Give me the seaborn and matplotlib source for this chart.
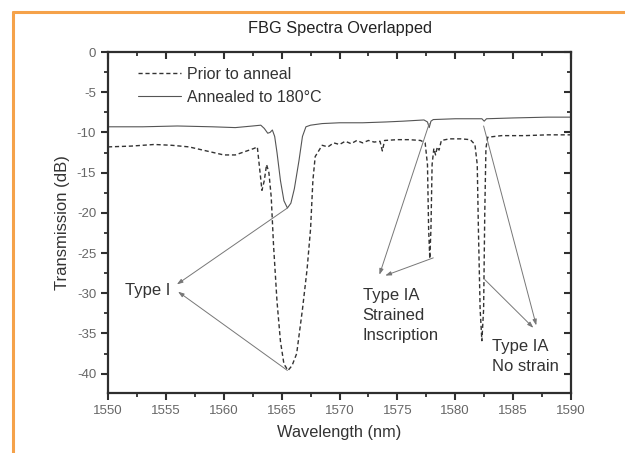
import numpy as np
import pandas as pd
import seaborn as sns
import matplotlib
matplotlib.use("Agg")
import matplotlib.pyplot as plt
from matplotlib.lines import Line2D, TICKDOWN, TICKLEFT
from matplotlib.ticker import FixedLocator

# ---- data ----
prior_wl = [1550.0, 1552.0, 1554.0, 1555.5, 1557.0, 1558.5, 1560.0, 1561.0, 1562.0, 1562.6,
            1562.9, 1563.1, 1563.3, 1563.5, 1563.7, 1563.9, 1564.1, 1564.3, 1564.6, 1564.9,
            1565.2, 1565.55, 1565.9, 1566.3, 1566.8, 1567.2, 1567.5, 1567.7, 1567.9, 1568.2,
            1568.5, 1569.0, 1569.5, 1570.0, 1570.5, 1571.0, 1571.5, 1572.0, 1572.5, 1573.0,
            1573.5, 1573.7, 1573.9, 1575.0, 1576.0, 1577.0, 1577.4, 1577.6, 1577.7, 1577.8,
            1577.9, 1578.0, 1578.15, 1578.3, 1578.45, 1578.6, 1578.8, 1579.5, 1580.5, 1581.3,
            1581.7, 1581.9, 1582.0, 1582.15, 1582.3, 1582.45, 1582.55, 1582.65, 1582.8, 1584.0,
            1586.0, 1588.0, 1590.0]
prior_db = [-11.8, -11.7, -11.5, -11.6, -11.8, -12.3, -12.8, -12.8, -12.3, -12.0,
            -11.8, -14.5, -17.2, -16.0, -14.0, -15.0, -18.0, -24.0, -31.0, -36.0,
            -38.8, -39.6, -39.0, -37.5, -32.0, -27.0, -22.0, -16.0, -13.0, -12.3,
            -11.6, -11.8, -11.3, -11.5, -11.1, -11.4, -11.0, -11.3, -11.0, -11.2,
            -11.1, -12.3, -11.0, -10.9, -10.9, -11.0, -11.3, -14.0, -22.0, -25.7,
            -22.0, -14.0, -12.0, -12.8, -11.8, -12.2, -11.0, -10.8, -10.8, -10.9,
            -11.5, -14.0, -22.0, -32.0, -35.9, -32.0, -20.0, -12.0, -10.6, -10.4,
            -10.4, -10.3, -10.3]

annealed_wl = [1550.0, 1553.0, 1556.0, 1559.0, 1561.0, 1562.5, 1563.2, 1563.5, 1563.8, 1564.0,
               1564.2, 1564.4, 1564.6, 1564.9, 1565.2, 1565.5, 1565.8, 1566.1, 1566.5, 1566.8,
               1567.1, 1567.5, 1568.5, 1570.0, 1572.0, 1574.0, 1575.5, 1577.3, 1577.6, 1577.75,
               1577.9, 1578.1, 1580.0, 1582.3, 1582.5, 1582.7, 1585.0, 1588.0, 1590.0]
annealed_db = [-9.3, -9.3, -9.2, -9.3, -9.4, -9.2, -9.1, -9.5, -10.1, -10.0,
               -9.7, -10.5, -12.5, -16.0, -18.5, -19.4, -18.8, -17.0, -13.5, -10.5,
               -9.3, -9.1, -8.9, -8.8, -8.8, -8.7, -8.6, -8.45, -8.7, -9.4,
               -8.6, -8.4, -8.3, -8.3, -8.6, -8.3, -8.2, -8.1, -8.1]

series_labels = ["Prior to anneal", "Annealed to 180°C"]
title = "FBG Spectra Overlapped"
x_label = "Wavelength (nm)"
y_label = "Transmission (dB)"
x_ticks = [1550, 1555, 1560, 1565, 1570, 1575, 1580, 1585, 1590]
y_ticks = [0, -5, -10, -15, -20, -25, -30, -35, -40]
x_minor = [1552.5, 1557.5, 1562.5, 1567.5, 1572.5, 1577.5, 1582.5, 1587.5]
y_minor = [-2.5, -7.5, -12.5, -17.5, -22.5, -27.5, -32.5, -37.5]

# ---- style ----
sns.set_style("white")
plt.rcParams["font.family"] = ["Liberation Sans", "DejaVu Sans"]
plt.rcParams["axes.unicode_minus"] = False

fig = plt.figure(figsize=(6.25, 4.53), dpi=100)
ax = fig.add_axes([0.1728, 0.1325, 0.7408, 0.7527])

dark = "#2e2e2e"
sns.lineplot(x=prior_wl, y=prior_db, ax=ax, color="#333333", lw=1.0,
             linestyle=(0, (3, 2)), label=series_labels[0])
sns.lineplot(x=annealed_wl, y=annealed_db, ax=ax, color="#555555", lw=0.8,
             label=series_labels[1])

ax.set_xlim(1550, 1590)
ax.set_ylim(-42.4, 0)
ax.xaxis.set_major_locator(FixedLocator(x_ticks))
ax.yaxis.set_major_locator(FixedLocator(y_ticks))
ax.xaxis.set_minor_locator(FixedLocator(x_minor))
ax.yaxis.set_minor_locator(FixedLocator(y_minor))
ax.tick_params(which="major", direction="out", length=5, width=1.5, color=dark,
               labelsize=9.5, labelcolor="#666666", bottom=True, left=True,
               top=True, right=True, labeltop=False, labelright=False)
ax.tick_params(which="minor", direction="out", length=3, width=1.3, color=dark,
               bottom=True, left=True, top=True, right=True)

# top / right ticks point inward, bottom / left outward
for t in ax.xaxis.get_major_ticks(len(x_ticks)) + ax.xaxis.get_minor_ticks(len(x_minor)):
    t.tick2line.set_marker(TICKDOWN)
for t in ax.yaxis.get_major_ticks(len(y_ticks)) + ax.yaxis.get_minor_ticks(len(y_minor)):
    t.tick2line.set_marker(TICKLEFT)

for lab in ax.get_xticklabels() + ax.get_yticklabels():
    lab.set_family(["Liberation Sans Narrow", "Liberation Sans"])
for s in ax.spines.values():
    s.set_visible(True)
    s.set_color(dark)
    s.set_linewidth(1.6)

ax.set_title(title, fontsize=11.8, color="#222222", pad=14)
ax.set_xlabel(x_label, fontsize=11.8, color="#333333", labelpad=6)
ax.set_ylabel(y_label, fontsize=12, color="#333333", labelpad=5)

leg = ax.legend(loc="upper left", frameon=False, fontsize=11.5, handlelength=2.7,
                handletextpad=0.4, labelspacing=0.5, borderaxespad=0.3,
                bbox_to_anchor=(0.04, 0.99))
for t in leg.get_texts():
    t.set_color("#333333")

# ---- annotations ----
acol = "#777777"
aprops = dict(arrowstyle="-|>,head_length=0.35,head_width=0.12", color=acol, lw=0.7,
              shrinkA=0, shrinkB=0)
tfs = 12
ax.text(1551.5, -29.6, "Type I", fontsize=tfs, color="#333333", va="center", ha="left")
ax.annotate("", xy=(1555.95, -28.9), xytext=(1565.5, -19.4), arrowprops=aprops)
ax.annotate("", xy=(1556.05, -29.8), xytext=(1565.5, -39.6), arrowprops=aprops)

ax.text(1572.0, -29.4, "Type IA\nStrained\nInscription", fontsize=tfs, color="#333333",
        va="top", ha="left", linespacing=1.38)
ax.annotate("", xy=(1573.45, -27.7), xytext=(1577.75, -8.9), arrowprops=aprops)
ax.annotate("", xy=(1573.95, -27.8), xytext=(1578.1, -25.6), arrowprops=aprops)

ax.text(1583.15, -35.7, "Type IA\nNo strain", fontsize=tfs, color="#333333",
        va="top", ha="left", linespacing=1.38)
ax.annotate("", xy=(1586.75, -34.3), xytext=(1582.55, -28.3), arrowprops=aprops)
ax.annotate("", xy=(1587.0, -34.0), xytext=(1582.45, -9.2), arrowprops=aprops)

# orange frame of the scanned figure
ocol = "#F5A24A"
fig.add_artist(Line2D([13 / 625, 13 / 625], [0, 1 - 12 / 453], transform=fig.transFigure,
                      color=ocol, lw=2.2))
fig.add_artist(Line2D([13 / 625, 1], [1 - 12 / 453, 1 - 12 / 453], transform=fig.transFigure,
                      color=ocol, lw=2.2))

fig.savefig("out.png", dpi=100)
